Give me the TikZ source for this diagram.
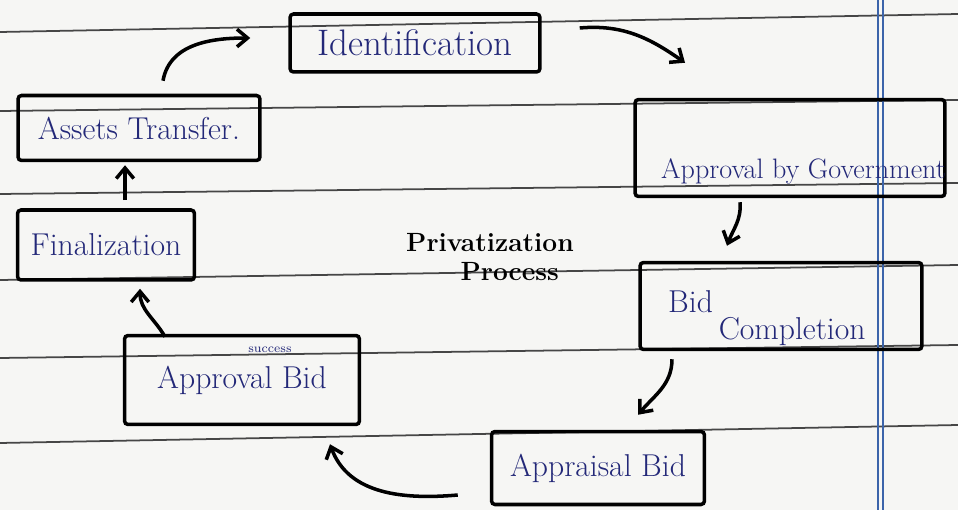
\documentclass[tikz,border=0pt]{standalone}
\usepackage{xcolor}
\usepackage{tikz}
\usetikzlibrary{calc,positioning,arrows.meta}

\definecolor{ink}{RGB}{35,40,120}
\definecolor{paper}{RGB}{246,246,244}
\definecolor{rule}{RGB}{70,70,70}
\definecolor{margin}{RGB}{60,100,170}

\tikzset{
    stage/.style={draw, line width=2pt, inner sep=0pt, rounded corners=2pt},
    inktext/.style={text=ink, font=\fontsize{18}{21}\selectfont},
}

\begin{document}
\begin{tikzpicture}[x=0.02cm, y=-0.02cm, align=center, >={Straight Barb[length=6pt,width=10pt]}]
    % page and ruled lines
    \fill[paper] (0,0) rectangle (958,510);
    \useasboundingbox (0,0) rectangle (958,510);
    \foreach \l/\r in {32/14, 111/100, 194/183, 280/265, 358/345, 443/425} {
        \draw[rule, line width=1pt] (0,\l) -- (958,\r);
    }
    \draw[margin, line width=0.8pt] (878,0) -- (878,510);
    \draw[margin, line width=0.8pt] (883,0) -- (883,510);

    % stages
    \node [stage, minimum width=5cm, minimum height=1.16cm, inktext, font=\fontsize{21}{24}\selectfont] (identification) at (415,43) {Identification};
    \node [stage, minimum width=6.2cm, minimum height=1.94cm] (approval_gov) at (790,148) {};
    \node [inktext, font=\fontsize{16}{19}\selectfont, anchor=south west] (approval_gov_text) at (655,190) {Approval by Government};
    \node [stage, minimum width=5.64cm, minimum height=1.74cm] (bid_completion) at (781,306) {};
    \node [inktext, align=left, anchor=west] (bid_completion_text) at (662,318) {Bid\\[-6pt]\hspace*{1.6em}Completion};
    \node [stage, minimum width=4.26cm, minimum height=1.46cm, inktext] (appraisal_bid) at (598,468) {Appraisal Bid};
    \node [stage, minimum width=4.7cm, minimum height=1.78cm, inktext] (approval_bid) at (242,380) {Approval Bid};
    \node [text=ink, font=\scriptsize] (success_mark) at (270,350) {success};
    \node [stage, minimum width=3.54cm, minimum height=1.4cm, inktext] (finalization) at (106,245) {Finalization};
    \node [stage, minimum width=4.84cm, minimum height=1.3cm, inktext] (assets_transfer) at (139,128) {Assets Transfer.};

    \node [font=\fontsize{15}{17}\bfseries] (privatization) at (490,257) {Privatization\\\hspace*{1.5em}Process};

    % cycle
    \draw[->, line width=2pt] ($(identification.east)+(38,-15)$) to[out=5, in=145] ($(approval_gov.north)+(-105,-35)$);
    \draw[->, line width=2pt] ($(approval_gov.south)+(-50,4)$) to[out=-85, in=70] ($(bid_completion.north)+(-54,-15)$);
    \draw[->, line width=2pt] ($(bid_completion.south)+(-109,8)$) to[out=-90, in=50] ($(appraisal_bid.north)+(40,-15)$);
    \draw[->, line width=2pt] ($(appraisal_bid.west)+(-32,27)$) to[out=185, in=-70] ($(approval_bid.south)+(88,18)$);
    \draw[->, line width=2pt] ($(approval_bid.north)+(-77,3)$) to[out=120, in=-90] ($(finalization.south)+(34,7)$);
    \draw[->, line width=2pt] ($(finalization.north)+(19,-8)$) -- ($(assets_transfer.south)+(-14,3)$);
    \draw[->, line width=2pt] ($(assets_transfer.north)+(24,-13)$) to[out=80, in=180] ($(identification.west)+(-38,-5)$);
\end{tikzpicture}
\end{document}
